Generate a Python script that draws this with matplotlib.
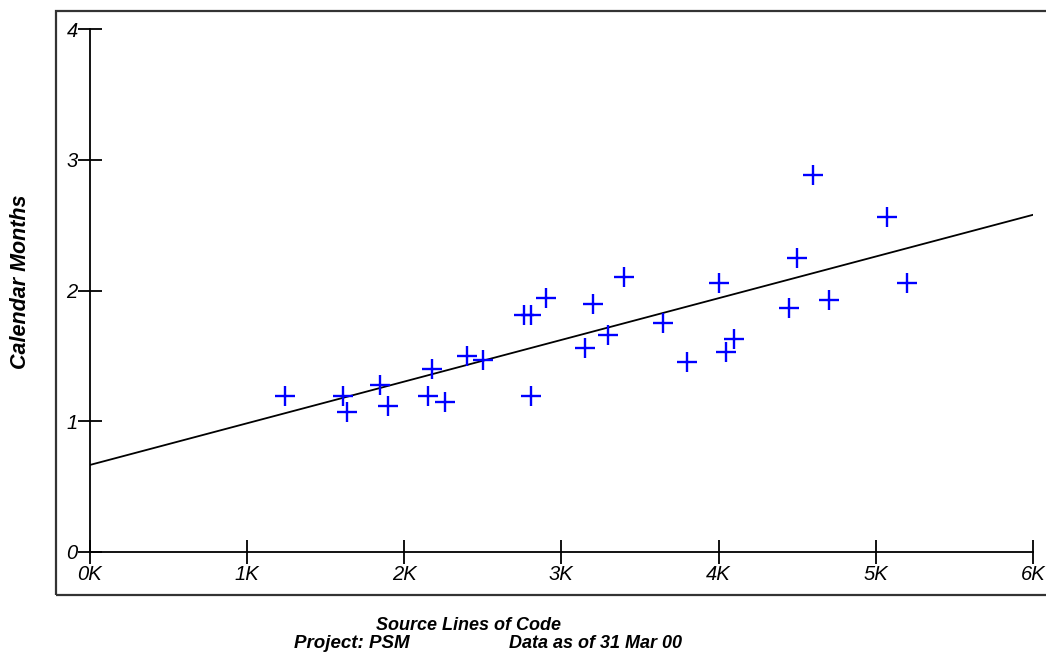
import numpy as np
import matplotlib.pyplot as plt
from matplotlib.patches import Rectangle

plt.rcParams['font.family'] = ['Liberation Sans', 'DejaVu Sans']

# source lines of code (thousands) and calendar months per project
sloc_k = [1.24, 1.61, 1.64, 1.85, 1.90, 2.15, 2.18, 2.26, 2.40, 2.50,
          2.76, 2.81, 2.81, 2.90, 3.15, 3.20, 3.30, 3.40, 3.65, 3.80,
          4.00, 4.05, 4.10, 4.45, 4.50, 4.60, 4.70, 5.07, 5.20]
months = [1.19, 1.19, 1.07, 1.28, 1.12, 1.19, 1.40, 1.15, 1.50, 1.47,
          1.81, 1.81, 1.19, 1.94, 1.56, 1.90, 1.66, 2.10, 1.75, 1.45,
          2.06, 1.53, 1.63, 1.87, 2.25, 2.88, 1.93, 2.56, 2.06]

# fitted trend line
fit_intercept = 0.665
fit_slope = 0.319  # months per K lines

x_ticks = [0, 1, 2, 3, 4, 5, 6]
x_labels = ['0K', '1K', '2K', '3K', '4K', '5K', '6K']
y_ticks = [0, 1, 2, 3, 4]

fig = plt.figure(figsize=(10.46, 6.58), dpi=100)
ax = fig.add_axes([0.0856, 0.1611, 0.9020, 0.7948])

# outer frame around the chart
fig.patches.append(Rectangle((56 / 1046, 63 / 658), 1.2, 584 / 658,
                             transform=fig.transFigure, fill=False,
                             edgecolor='#333333', linewidth=1.6))

xs = np.array([0, 6])
ax.plot(xs, fit_intercept + fit_slope * xs, color='black', linewidth=1.3)
ax.plot(sloc_k, months, linestyle='none', marker='+', color='blue',
        markersize=14, markeredgewidth=1.7)

ax.set_xlim(0, 6)
ax.set_ylim(0, 4)
ax.set_xticks(x_ticks)
ax.set_xticklabels(x_labels)
ax.set_yticks(y_ticks)
for s in ['top', 'right']:
    ax.spines[s].set_visible(False)
for s in ['left', 'bottom']:
    ax.spines[s].set_linewidth(1.3)
ax.tick_params(axis='both', direction='inout', length=17, width=1.3,
               labelsize=14.5)
ax.tick_params(axis='y', pad=0)
ax.tick_params(axis='x', pad=1)
for lab in ax.get_xticklabels() + ax.get_yticklabels():
    lab.set_fontstyle('italic')

fig.text(469 / 1046, 1 - 626 / 658, 'Source Lines of Code', ha='center',
         va='center', fontsize=13, fontweight='bold', fontstyle='italic')
fig.text(352 / 1046, 1 - 643 / 658, 'Project: PSM', ha='center',
         va='center', fontsize=13.5, fontweight='bold', fontstyle='italic')
fig.text(595 / 1046, 1 - 643 / 658, 'Data as of 31 Mar 00', ha='center',
         va='center', fontsize=13, fontweight='bold', fontstyle='italic')
fig.text(21 / 1046, 1 - 282 / 658, 'Calendar Months', ha='center',
         va='center', rotation=90, fontsize=15.5, fontweight='bold',
         fontstyle='italic')

fig.savefig('out.png', dpi=100)
